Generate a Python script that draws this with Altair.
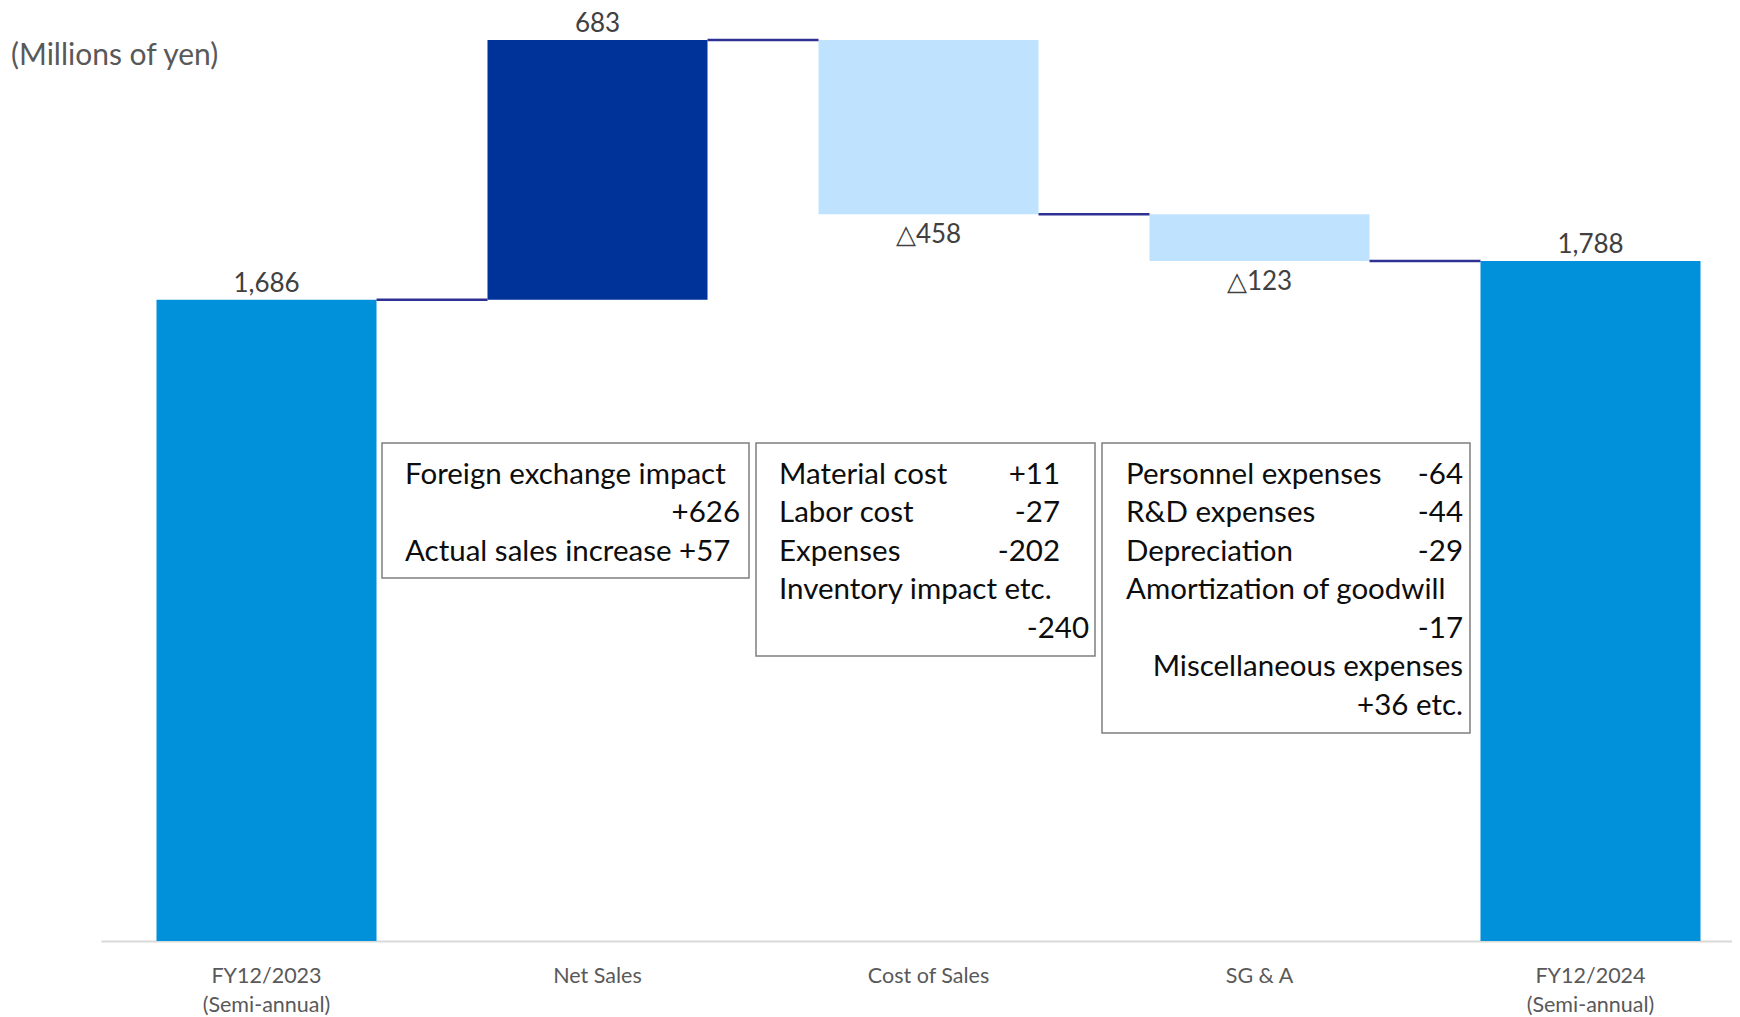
import altair as alt
import pandas as pd

# ---------------- data ----------------
categories = ["FY12/2023|(Semi-annual)", "Net Sales", "Cost of Sales", "SG & A", "FY12/2024|(Semi-annual)"]
steps = [1686, 683, -458, -123, 1788]
kinds = ["total", "increase", "decrease", "decrease", "total"]
value_labels = ["1,686", "683", "△458", "△123", "1,788"]
unit_label = "(Millions of yen)"

box1_left = ["Foreign exchange impact", "", "Actual sales increase +57"]
box1_right = ["", "+626", ""]
box2_left = ["Material cost", "Labor cost", "Expenses", "Inventory impact etc.", ""]
box2_right = ["+11", "-27", "-202", "", ""]
box2_far = ["", "", "", "", "-240"]
box3_left = ["Personnel expenses", "R&D expenses", "Depreciation", "Amortization of goodwill", "", "", ""]
box3_right = ["-64", "-44", "-29", "", "-17", "Miscellaneous expenses", "+36 etc."]

# ---------------- layout (pixels inside plot area) ----------------
PAD_T = 3
W, H = 1631, 930
PAD_L, PAD_B = 93, 76
Y_MAX = 2453 * 930 / 933

C_TOTAL = "#0091DA"
C_UP = "#003399"
C_DOWN = "#BFE3FF"
C_LINK = "#2E3192"
FONT = "Lato"

# waterfall geometry from data
rows = []
running = 0
for cat, v, k, lab in zip(categories, steps, kinds, value_labels):
    if k == "total":
        lo, hi = 0, v
        running = v
    else:
        end = running + v
        lo, hi = min(running, end), max(running, end)
        running = end
    rows.append({"cat": cat, "lo": lo, "hi": hi, "kind": k, "label": lab})
bars = pd.DataFrame(rows)

links = []
running = 0
for i, (v, k) in enumerate(zip(steps, kinds)):
    running = v if k == "total" else running + v
    if i < len(categories) - 1:
        links.append({"from": categories[i], "to": categories[i + 1], "level": running})
links = pd.DataFrame(links)

x_scale = alt.Scale(domain=categories, paddingInner=0.3353, paddingOuter=0.1314, align=0.638, round=False)
y_scale = alt.Scale(domain=[0, Y_MAX], nice=False, zero=True)

base = alt.Chart(bars)

bar_layer = base.mark_bar().encode(
    x=alt.X("cat:N", scale=x_scale, sort=categories, title=None,
            axis=alt.Axis(labelExpr="split(datum.label, '|')", labelAngle=0, ticks=False,
                          domainColor="#D9D9D9", domainWidth=2, labelColor="#595959",
                          labelFont=FONT, labelFontSize=21.5, labelPadding=24,
                          labelLineHeight=29, labelLimit=0, labelBaseline="top")),
    y=alt.Y("lo:Q", scale=y_scale, axis=None),
    y2="hi:Q",
    color=alt.Color("kind:N", scale=alt.Scale(domain=["total", "increase", "decrease"],
                                              range=[C_TOTAL, C_UP, C_DOWN]), legend=None),
)

link_layer = alt.Chart(links).mark_rule(color=C_LINK, strokeWidth=2.5).encode(
    x=alt.X("from:N", scale=x_scale, sort=categories, bandPosition=1),
    x2=alt.X2("to:N", bandPosition=0),
    y=alt.Y("level:Q", scale=y_scale),
)

top_labels = base.transform_filter("datum.kind != 'decrease'").mark_text(
    font=FONT, fontSize=26, color="#404040", baseline="bottom", dy=-3
).encode(x=alt.X("cat:N", scale=x_scale, sort=categories), y=alt.Y("hi:Q", scale=y_scale), text="label:N")

bottom_labels = base.transform_filter("datum.kind == 'decrease'").mark_text(
    font=FONT, fontSize=26, color="#404040", baseline="top", dy=8
).encode(x=alt.X("cat:N", scale=x_scale, sort=categories), y=alt.Y("lo:Q", scale=y_scale), text="label:N")

# ---------------- annotation boxes ----------------
OX, OY = 101, 8 + PAD_T  # page position of the plot area
ROW0, ROWH = 474.5, 38.5  # page y of first text row, row spacing
boxes = [
    {"x0": 382, "x1": 749, "y0": 443, "y1": 578, "lx": 405, "rx": 740, "fx": 740,
     "L": box1_left, "R": box1_right, "F": ["" for _ in box1_left]},
    {"x0": 756, "x1": 1095, "y0": 443, "y1": 656, "lx": 779, "rx": 1060, "fx": 1089,
     "L": box2_left, "R": box2_right, "F": box2_far},
    {"x0": 1102, "x1": 1470, "y0": 443, "y1": 733, "lx": 1126, "rx": 1463, "fx": 1463,
     "L": box3_left, "R": box3_right, "F": ["" for _ in box3_left]},
]
rect_rows, left_rows, right_rows = [], [], []
for b in boxes:
    rect_rows.append({"x0": b["x0"] - OX, "x1": b["x1"] - OX, "y0": b["y0"] - OY, "y1": b["y1"] - OY})
    for i, (l, r, f) in enumerate(zip(b["L"], b["R"], b["F"])):
        y = ROW0 + i * ROWH - OY
        if l:
            left_rows.append({"t": l, "px": b["lx"] - OX, "py": y})
        if r:
            right_rows.append({"t": r, "px": b["rx"] - OX, "py": y})
        if f:
            right_rows.append({"t": f, "px": b["fx"] - OX, "py": y})

rect_layer = alt.Chart(pd.DataFrame(rect_rows)).mark_rect(
    fill="white", stroke="#7F7F7F", strokeWidth=1.5
).encode(
    x=alt.X("x0:Q", scale=None), x2="x1:Q",
    y=alt.Y("y0:Q", scale=None), y2="y1:Q",
)
left_text = alt.Chart(pd.DataFrame(left_rows)).mark_text(
    font=FONT, fontSize=29.5, color="#0D0D0D", align="left", baseline="middle"
).encode(x=alt.X("px:Q", scale=None), y=alt.Y("py:Q", scale=None), text="t:N")
right_text = alt.Chart(pd.DataFrame(right_rows)).mark_text(
    font=FONT, fontSize=29.5, color="#0D0D0D", align="right", baseline="middle"
).encode(x=alt.X("px:Q", scale=None), y=alt.Y("py:Q", scale=None), text="t:N")

unit_text = alt.Chart(pd.DataFrame({"t": [unit_label], "px": [11 - OX], "py": [56 - OY]})).mark_text(
    font=FONT, fontSize=30, color="#595959", align="left", baseline="middle"
).encode(x=alt.X("px:Q", scale=None), y=alt.Y("py:Q", scale=None), text="t:N")

chart = alt.layer(
    bar_layer, link_layer, top_labels, bottom_labels, rect_layer, left_text, right_text, unit_text
).properties(
    width=W, height=H,
    autosize=alt.AutoSizeParams(type="none"),
    padding={"left": PAD_L, "top": PAD_T, "right": 0, "bottom": PAD_B},
    background="white",
).configure_view(stroke=None)

chart.save("out.html", embed_options={"renderer": "svg", "actions": False})
